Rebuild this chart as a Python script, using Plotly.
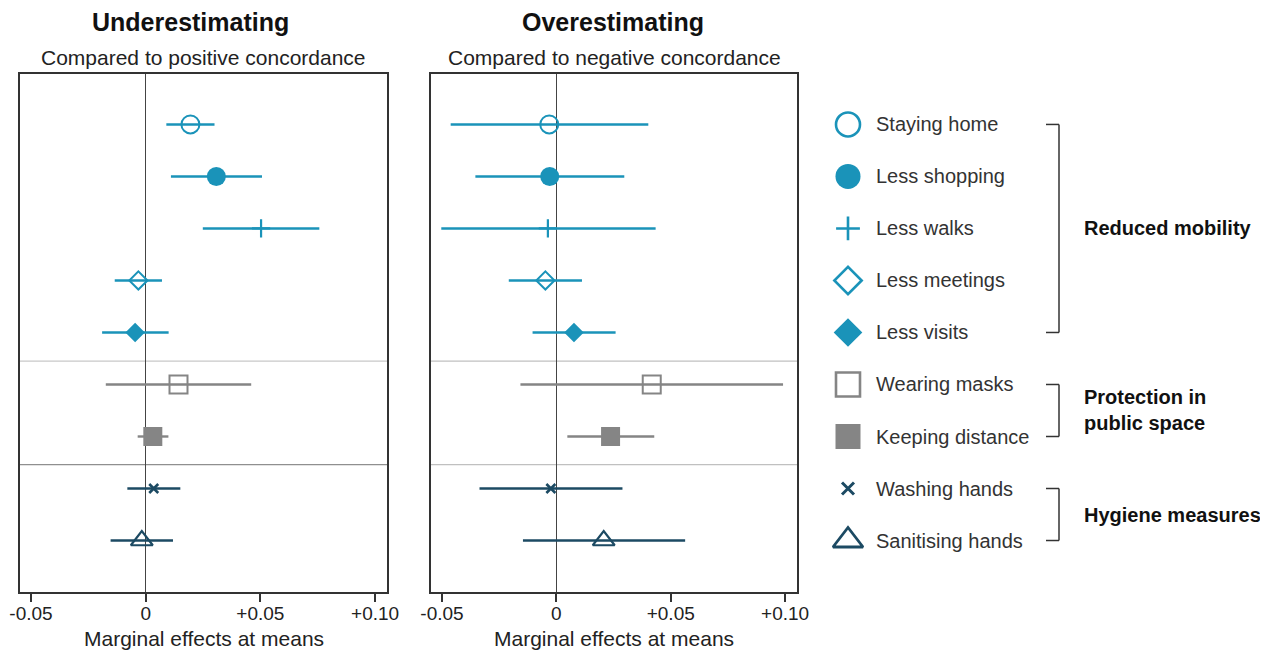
import plotly.graph_objects as go

# ---------------- data ----------------
measures = ["Staying home", "Less shopping", "Less walks", "Less meetings", "Less visits",
            "Wearing masks", "Keeping distance", "Washing hands", "Sanitising hands"]

under_est = [0.0195, 0.0308, 0.0503, -0.0032, -0.0046, 0.0143, 0.0031, 0.0035, -0.0017]
under_lo = [0.0090, 0.0110, 0.0249, -0.0135, -0.0190, -0.0174, -0.0035, -0.0080, -0.0153]
under_hi = [0.0300, 0.0507, 0.0757, 0.0071, 0.0100, 0.0460, 0.0099, 0.0151, 0.0119]

over_est = [-0.0031, -0.0029, -0.0037, -0.0048, 0.0077, 0.0417, 0.0237, -0.0024, 0.0207]
over_lo = [-0.0462, -0.0354, -0.0503, -0.0208, -0.0104, -0.0157, 0.0048, -0.0336, -0.0146]
over_hi = [0.0402, 0.0297, 0.0434, 0.0112, 0.0259, 0.0991, 0.0428, 0.0289, 0.0563]

tick_vals = [-0.05, 0, 0.05, 0.10]
tick_text = ["-0.05", "0", "+0.05", "+0.10"]

groups = ["Reduced mobility", "Protection in<br>public space", "Hygiene measures"]
group_rows = [(0, 4), (5, 6), (7, 8)]
separators = [4.55, 6.54]

# ---------------- styles ----------------
TEAL = "#1a93b9"
GREY = "#858585"
NAVY = "#1c4a63"
colors = [TEAL] * 5 + [GREY] * 2 + [NAVY] * 2
symbols = ["circle-open", "circle", "cross-thin-open", "diamond-open", "diamond",
           "square-open", "square", "x-thin-open", "triangle-up-open"]
sizes = [18, 19, 13, 14, 15, 18, 19, 9, 19]
mline = [2, 0, 2.2, 2, 0, 2, 0, 2.6, 2.2]
leg_sizes = [24, 25, 17, 21, 22, 24, 25, 12, 26]
leg_mline = [2.6, 0, 2.6, 2.6, 0, 2.6, 0, 3.0, 2.8]

FONT = "Liberation Sans, Arial, sans-serif"
W, H = 1268, 650
OFF = 8  # page body margin offset

def px(x):
    return (x - OFF) / W

def py(y):
    return 1 - (y - OFF) / H

fig = go.Figure()

rows = list(range(len(measures)))

def add_panel(est, lo, hi, xa, ya):
    for i in rows:
        fig.add_trace(go.Scatter(
            x=[est[i]], y=[i], xaxis=xa, yaxis=ya, mode="markers",
            marker=dict(symbol=symbols[i], size=sizes[i], color=colors[i], opacity=1,
                        line=dict(color=colors[i], width=mline[i])),
            error_x=dict(type="data", symmetric=False,
                         array=[hi[i] - est[i]], arrayminus=[est[i] - lo[i]],
                         color=colors[i], thickness=2.4, width=0),
            showlegend=False, hoverinfo="skip"))

add_panel(under_est, under_lo, under_hi, "x", "y")
add_panel(over_est, over_lo, over_hi, "x2", "y2")

# legend markers in a third (invisible) axis
for i in rows:
    fig.add_trace(go.Scatter(
        x=[0.5], y=[i], xaxis="x3", yaxis="y3", mode="markers",
        marker=dict(symbol=symbols[i], size=leg_sizes[i], color=colors[i], opacity=1,
                    line=dict(color=colors[i], width=leg_mline[i])),
        showlegend=False, hoverinfo="skip"))

yrange = [8.99, -0.97]
ydom = [py(592), py(74)]

xaxis_common = dict(
    range=[-0.0548, 0.1052], tickvals=tick_vals, ticktext=tick_text,
    ticks="outside", ticklen=8, tickwidth=1.5, tickcolor="#333",
    showline=True, linecolor="#333", linewidth=1.5, mirror=True,
    showgrid=False, zeroline=True, zerolinecolor="#444", zerolinewidth=1.2,
    tickfont=dict(family=FONT, size=19, color="#222"),
    ticklabelstandoff=-5,
    automargin=False,
)
yaxis_common = dict(
    range=yrange, domain=ydom, showticklabels=False, ticks="",
    showline=True, linecolor="#333", linewidth=1.5, mirror=True,
    showgrid=False, zeroline=False, automargin=False,
)

fig.update_layout(
    template="none",
    width=W, height=H, margin=dict(l=0, r=0, t=0, b=0, pad=0, autoexpand=False),
    paper_bgcolor="white", plot_bgcolor="white",
    font=dict(family=FONT, color="#222"),
    xaxis=dict(domain=[px(20), px(387)], anchor="y", **xaxis_common),
    yaxis=dict(anchor="x", **yaxis_common),
    xaxis2=dict(domain=[px(431), px(797)], anchor="y2", **xaxis_common),
    yaxis2=dict(anchor="x2", **yaxis_common),
    xaxis3=dict(domain=[px(830), px(866)], range=[0, 1], anchor="y3", visible=False,
                automargin=False),
    yaxis3=dict(domain=ydom, range=yrange, anchor="x3", visible=False, automargin=False),
)

# separator lines
sep_colors_left = ["#c8c8c8", "#8f8f8f"]
for k, s in enumerate(separators):
    fig.add_shape(type="line", xref="x domain", yref="y", x0=0, x1=1, y0=s, y1=s,
                  line=dict(color=sep_colors_left[k], width=1.2), layer="below")
    fig.add_shape(type="line", xref="x2 domain", yref="y2", x0=0, x1=1, y0=s, y1=s,
                  line=dict(color="#c0c0c0", width=1.2), layer="below")

# titles and axis titles
titles = [("Underestimating", "Compared to positive concordance", 190, (20 + 387) / 2),
          ("Overestimating", "Compared to negative concordance", 613, (431 + 797) / 2)]
for t, sub, tx, cx in titles:
    fig.add_annotation(x=px(tx), y=py(22), xref="paper", yref="paper", text="<b>%s</b>" % t,
                       showarrow=False, xanchor="center", yanchor="middle",
                       font=dict(family=FONT, size=25, color="#111"))
    fig.add_annotation(x=px(cx), y=py(58), xref="paper", yref="paper", text=sub,
                       showarrow=False, xanchor="center", yanchor="middle",
                       font=dict(family=FONT, size=21, color="#222"))
    fig.add_annotation(x=px(cx), y=py(638), xref="paper", yref="paper",
                       text="Marginal effects at means",
                       showarrow=False, xanchor="center", yanchor="middle",
                       font=dict(family=FONT, size=21, color="#222"))

# legend labels
for i, m in enumerate(measures):
    fig.add_annotation(x=px(874), y=i, xref="paper", yref="y3", text=m,
                       showarrow=False, xanchor="left", yanchor="middle",
                       font=dict(family=FONT, size=20, color="#333"))

# brackets and group labels
bx0, bx1 = px(1046), px(1059)
for g, (r0, r1) in zip(groups, group_rows):
    for xr0, xr1, yy0, yy1 in [(bx0, bx1, r0, r0), (bx0, bx1, r1, r1), (bx1, bx1, r0, r1)]:
        fig.add_shape(type="line", xref="paper", yref="y3", x0=xr0, x1=xr1, y0=yy0, y1=yy1,
                      line=dict(color="#333", width=1.5))
    fig.add_annotation(x=px(1082), y=(r0 + r1) / 2, xref="paper", yref="y3", text="<b>%s</b>" % g,
                       showarrow=False, xanchor="left", yanchor="middle", align="left",
                       font=dict(family=FONT, size=20, color="#111"))

fig.write_html("out.html")
